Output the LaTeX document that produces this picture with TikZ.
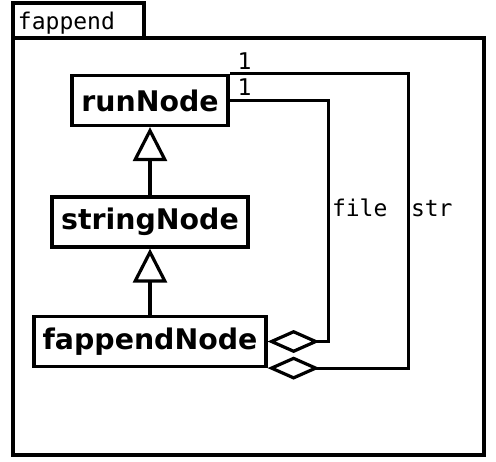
\documentclass[tikz,border=0pt]{standalone}
\usepackage{fontspec}
\setmainfont{DejaVu Sans}
\setmonofont{DejaVu Sans Mono}
\usetikzlibrary{arrows.meta}

\begin{document}
\begin{tikzpicture}[x=0.5pt,y=0.5pt,
  classBox/.style={draw=drawColor,line width=1.6pt,inner sep=0pt,minimum height=25pt,font=\fontsize{14.2}{16}\selectfont\bfseries},
  monoText/.style={text=drawColor,inner sep=0pt,outer sep=0pt,font=\fontsize{11.5}{13}\selectfont\ttfamily},
  generalize/.style={draw=drawColor,line width=1.6pt,-{Triangle[open,length=17pt,width=17pt]}},
  aggregate/.style={draw=drawColor,line width=1.6pt,line join=miter,{Diamond[open,length=26pt,width=11.5pt]}-}]
\definecolor{drawColor}{RGB}{0,0,0}
\definecolor{fillColor}{RGB}{255,255,255}
\path[use as bounding box,fill=fillColor] (0,0) rectangle (496,461);

% package frame
\path[draw=drawColor,line width=1.6pt] (13,423) rectangle (144,458);
\path[draw=drawColor,line width=1.6pt] (13,6) rectangle (484,423);
\node[monoText,anchor=base west] (pkgName) at (18,431) {fappend};

% classes
\node[classBox,minimum width=78pt] (runNode) at (150,360.5) {runNode};
\node[classBox,minimum width=98pt] (stringNode) at (150,239) {stringNode};
\node[classBox,minimum width=116pt] (fappendNode) at (150,119.5) {fappendNode};

% inheritance
\path[generalize] (stringNode.north) -- (runNode.south);
\path[generalize] (fappendNode.north) -- (stringNode.south);

% aggregations
\path[aggregate] (fappendNode.east) -- ++(61,0) |- (runNode.east);
\path[aggregate] (fappendNode.south east) -- ++(141,0) |- (runNode.north east);

\node[monoText,anchor=base west] (fileMult) at ([xshift=4pt,yshift=2.5pt]runNode.east) {1};
\node[monoText,anchor=base west] (strMult) at ([xshift=4pt,yshift=2pt]runNode.north east) {1};
\node[monoText,anchor=base west] (fileName) at (332,245) {file};
\node[monoText,anchor=base west] (strName) at (411,245) {str};
\end{tikzpicture}
\end{document}
